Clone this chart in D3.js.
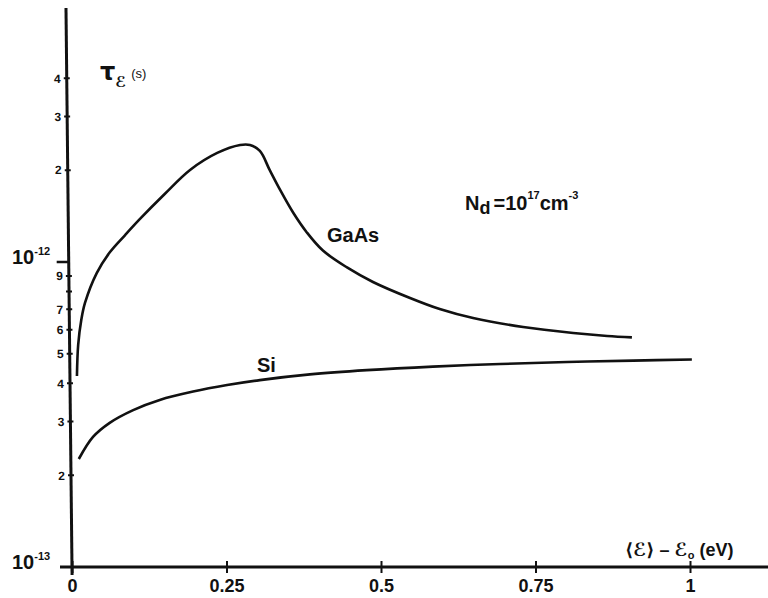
<!DOCTYPE html>
<html>
<head>
<meta charset="UTF-8">
<title>Energy relaxation time</title>
<script src="https://d3js.org/d3.v7.min.js"></script>
<style>
  body { margin: 0; background: #fff; }
  text { font-family: "Liberation Sans", Arial, sans-serif; font-weight: bold; fill: #111; }
</style>
</head>
<body>
<svg id="chart"></svg>
<script>
// curves: mean energy above band edge (eV) vs tau (s)
const gaasEnergy = [0.008, 0.010, 0.015, 0.021, 0.040, 0.0615, 0.086, 0.110, 0.150, 0.191, 0.235, 0.272, 0.288,
  0.304, 0.320, 0.337, 0.358, 0.380, 0.406, 0.445, 0.487, 0.547, 0.595, 0.649, 0.730, 0.811, 0.866, 0.906];
const gaasTau = [4.23e-13, 5.35e-13, 6.45e-13, 7.34e-13, 9.2e-13, 1.078e-12, 1.226e-12, 1.384e-12, 1.671e-12, 2.003e-12,
  2.278e-12, 2.419e-12, 2.419e-12, 2.312e-12, 2.00e-12, 1.72e-12, 1.45e-12, 1.25e-12, 1.09e-12, 9.6e-13, 8.6e-13,
  7.62e-13, 7.01e-13, 6.55e-13, 6.12e-13, 5.85e-13, 5.72e-13, 5.66e-13];

const siEnergy = [0.011, 0.034, 0.061, 0.099, 0.142, 0.196, 0.251, 0.304, 0.385, 0.477, 0.584, 0.693, 0.801, 0.908, 1.003];
const siTau = [2.26e-13, 2.67e-13, 2.97e-13, 3.27e-13, 3.53e-13, 3.76e-13, 3.95e-13, 4.10e-13, 4.28e-13,
  4.42e-13, 4.54e-13, 4.63e-13, 4.70e-13, 4.75e-13, 4.79e-13];

const xTicks = [0, 0.25, 0.5, 0.75, 1];
const xTickLabels = ["0", "0.25", "0.5", "0.75", "1"];
const yMinorTicks = [2e-13, 3e-13, 4e-13, 5e-13, 6e-13, 7e-13, 8e-13, 9e-13, 2e-12, 3e-12, 4e-12];
const yMinorLabels = ["2", "3", "4", "5", "6", "7", "", "9", "2", "3", "4"];
const yDecades = [1e-13, 1e-12];
const yDecadeExp = ["-13", "-12"];

const width = 768, height = 598;
const svg = d3.select("#chart").attr("width", width).attr("height", height);

const x = d3.scaleLinear().domain([0, 1]).range([72, 690]);
const y = d3.scaleLog().domain([1e-13, 1e-11]).range([567, -43]);

// x axis, line runs off the right edge
svg.append("line")
  .attr("x1", 60).attr("x2", width)
  .attr("y1", y(1e-13)).attr("y2", y(1e-13))
  .attr("stroke", "#111").attr("stroke-width", 3);

const xAxis = svg.append("g")
  .attr("transform", `translate(0, ${y(1e-13)})`)
  .call(d3.axisBottom(x).tickValues(xTicks).tickFormat((d, i) => xTickLabels[i]).tickSize(6));
xAxis.select(".domain").remove();
xAxis.selectAll(".tick line").attr("y1", -6).attr("y2", 6).attr("stroke", "#111").attr("stroke-width", 2);
xAxis.selectAll(".tick text")
  .attr("y", 25).attr("dy", 0)
  .attr("font-size", "18px")
  .attr("font-family", "Liberation Sans, Arial, sans-serif")
  .attr("font-weight", "bold")
  .attr("fill", "#111");

// y axis, hand drawn so it leans a little
const yAxis = svg.append("g")
  .attr("transform", "translate(65.9, 0) skewX(0.615)");
yAxis.append("line")
  .attr("x1", 0).attr("x2", 0).attr("y1", 8).attr("y2", 575)
  .attr("stroke", "#111").attr("stroke-width", 3);

yAxis.selectAll(".minor")
  .data(yMinorTicks)
  .enter()
  .append("line")
  .attr("x1", -3).attr("x2", 3)
  .attr("y1", d => y(d)).attr("y2", d => y(d))
  .attr("stroke", "#111").attr("stroke-width", 2);

yAxis.selectAll(".minor_label")
  .data(yMinorTicks)
  .enter()
  .append("text")
  .attr("x", -6)
  .attr("y", d => y(d))
  .attr("dy", "0.36em")
  .attr("text-anchor", "end")
  .attr("font-size", "12px")
  .text((d, i) => yMinorLabels[i]);

// 10^-12 gets a longer tick to the left
yAxis.append("line")
  .attr("x1", -12).attr("x2", 0)
  .attr("y1", y(1e-12)).attr("y2", y(1e-12))
  .attr("stroke", "#111").attr("stroke-width", 2.5);

const dec = svg.selectAll(".decade")
  .data(yDecades)
  .enter()
  .append("text")
  .attr("x", 12)
  .attr("y", d => y(d) + 2)
  .attr("font-size", "20px");
dec.append("tspan").text("10");
dec.append("tspan")
  .attr("dy", -9)
  .attr("font-size", "11px")
  .text((d, i) => yDecadeExp[i]);

// curves
const line = d3.line()
  .x(d => x(d[0]))
  .y(d => y(d[1]))
  .curve(d3.curveCatmullRom.alpha(0.5));

svg.append("path")
  .datum(d3.zip(gaasEnergy, gaasTau))
  .attr("d", line)
  .attr("fill", "none").attr("stroke", "#111").attr("stroke-width", 2.6);

svg.append("path")
  .datum(d3.zip(siEnergy, siTau))
  .attr("d", line)
  .attr("fill", "none").attr("stroke", "#111").attr("stroke-width", 2.6);

// labels by hand
svg.append("text").attr("x", 327).attr("y", 242).attr("font-size", "20px").text("GaAs");
svg.append("text").attr("x", 257).attr("y", 372).attr("font-size", "20px").text("Si");

const nd = svg.append("text").attr("x", 465).attr("y", 210).attr("font-size", "20px");
nd.append("tspan").text("N");
nd.append("tspan").attr("dy", 4).attr("font-size", "18px").text("d");
nd.append("tspan").attr("dy", -4).attr("dx", 3).text("=10");
nd.append("tspan").attr("dy", -11).attr("font-size", "11px").text("17");
nd.append("tspan").attr("dy", 11).attr("font-size", "20px").text("cm");
nd.append("tspan").attr("dy", -11).attr("font-size", "11px").text("-3");

const tau = svg.append("text").attr("x", 100).attr("y", 80).attr("font-size", "24px");
tau.append("tspan").attr("font-family", "DejaVu Sans").text("τ");
tau.append("tspan").attr("dy", 7).attr("font-size", "15px").attr("font-family", "DejaVu Sans").text("ℰ");
tau.append("tspan").attr("dy", -9).attr("dx", 5).attr("font-size", "13px").attr("font-weight", "normal").text("(s)");

const xt = svg.append("text").attr("x", 625).attr("y", 556).attr("font-size", "18px");
xt.append("tspan").attr("font-family", "DejaVu Sans").text("⟨ℰ⟩");
xt.append("tspan").text(" – ");
xt.append("tspan").attr("font-family", "DejaVu Sans").text("ℰ");
xt.append("tspan").attr("dy", 3).attr("font-size", "11px").text("o");
xt.append("tspan").attr("dy", -3).text(" (eV)");
</script>
</body>
</html>
